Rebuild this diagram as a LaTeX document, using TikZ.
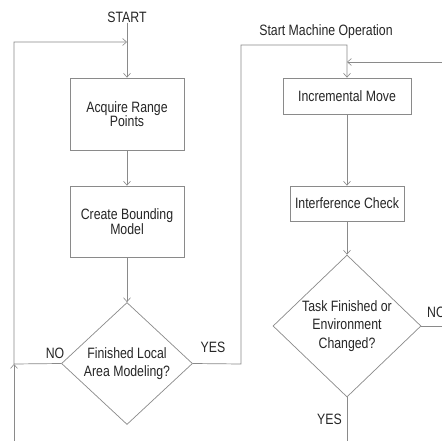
\documentclass[tikz,border=0pt]{standalone}
\usepackage{fontspec}
\setmainfont{Liberation Sans}[FakeStretch=0.82]
\usetikzlibrary{shapes.geometric,arrows.meta}
\definecolor{linecol}{HTML}{8A8A8A}
\definecolor{txtcol}{HTML}{262626}
\tikzset{
  conn/.style={draw=linecol, line width=0.7pt},
  arr/.style={conn, -{Straight Barb[length=4pt,width=7pt,line width=0.6pt]}},
  procbox/.style={rectangle, draw=linecol, line width=0.7pt, text=txtcol, align=center, inner sep=0pt,
    font=\fontsize{15}{14.5}\selectfont},
  decision/.style={diamond, draw=linecol, line width=0.7pt, text=txtcol, align=center, inner sep=0pt,
    font=\fontsize{15}{18.5}\selectfont},
  lbl/.style={text=txtcol, inner sep=0pt, font=\fontsize{15}{15}\selectfont},
}
\begin{document}
\begin{tikzpicture}[x=1pt,y=-1pt]
\useasboundingbox (0,0) rectangle (442,441);
\fill[white] (0,0) rectangle (442,441);

% nodes
\node[lbl] (start) at (127,17) {START};
\node[procbox, minimum width=114pt, minimum height=72pt] (box1) at (127,114) {Acquire Range\\Points};
\node[procbox, minimum width=114pt, minimum height=71pt] (box2) at (127,221.5) {Create Bounding\\Model};
\node[decision, minimum width=131pt, minimum height=122pt, shape aspect=1.07] (dia1) at (127,363.5) {Finished Local\\Area Modeling?};
\node[lbl] (no1) at (55,353) {NO};
\node[lbl] (yes1) at (213,347.5) {YES};

\node[lbl] (smo) at (326,32) {Start Machine Operation};
\node[procbox, minimum width=128pt, minimum height=36pt] (box3) at (347,96) {Incremental Move};
\node[procbox, minimum width=114pt, minimum height=35pt] (box4) at (347,203.5) {Interference Check};
\node[decision, minimum width=148pt, minimum height=142pt, shape aspect=1.04] (dia2) at (347,326) {Task Finished or\\Environment\\Changed?};
\node[lbl, anchor=west] (no2) at (427,312) {NO};
\node[lbl] (yes2) at (329.5,419) {YES};

% coordinates
\coordinate (lt) at (14,42);
\coordinate (lj) at (14,364);
\coordinate (lb) at (14,441);
\coordinate (mj) at (127,42);
\coordinate (yr) at (241,364);
\coordinate (yt) at (241,45);
\coordinate (rt) at (347,45);
\coordinate (rin) at (442,62);
\coordinate (rj) at (347,62);
\coordinate (nr) at (442,326);
\coordinate (db) at (347,441);

% connectors
\draw[arr] (start.south) -- (box1.north);
\draw[arr] (box1.south) -- (box2.north);
\draw[arr] (box2.south) -- (dia1.north);
\draw[arr] (dia1.west) -- (lj) -- (lt) -- (mj);
\draw[arr] (lb) -- (lj);
\draw[arr] (dia1.east) -- (yr) -- (yt) -- (rt) -- (box3.north);
\draw[arr] (rin) -- (rj);
\draw[arr] (box3.south) -- (box4.north);
\draw[arr] (box4.south) -- (dia2.north);
\draw[conn] (dia2.east) -- (nr);
\draw[conn] (dia2.south) -- (db);
\end{tikzpicture}
\end{document}
